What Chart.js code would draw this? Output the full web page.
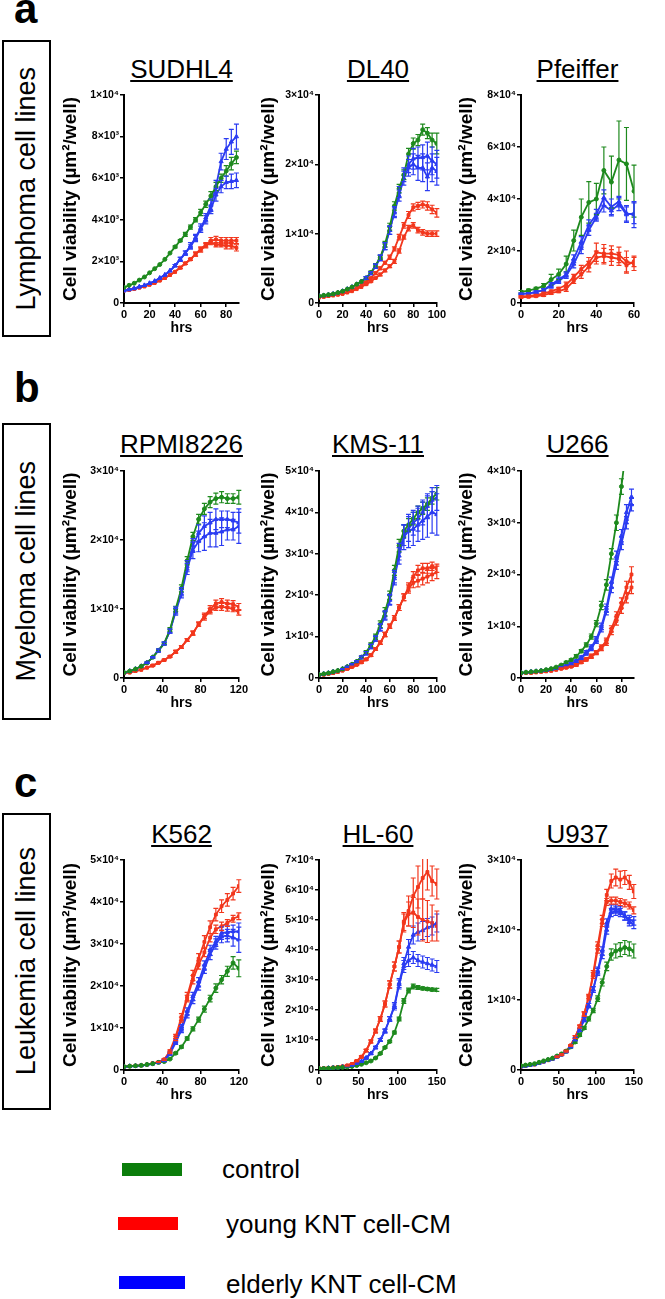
<!DOCTYPE html>
<html lang="en">
<head>
<meta charset="UTF-8">
<title>Cell viability of lymphoma, myeloma and leukemia cell lines</title>
<script src="https://cdn.jsdelivr.net/npm/chart.js"></script>
<style>
  body { margin: 0; width: 665px; height: 1299px; position: relative; overflow: hidden; background: #fff; color: #000; font-family: 'Liberation Sans', Arial, sans-serif; }
  .panel-letter { position: absolute; left: 14px; font-weight: bold; font-size: 42px; line-height: 42px; }
  .group-box { position: absolute; left: 2px; width: 49px; height: 297px; border: 2.5px solid #000; box-sizing: border-box; display: flex; align-items: center; justify-content: center; }
  .group-box span { writing-mode: vertical-rl; transform: rotate(180deg); font-size: 27px; white-space: nowrap; }
  .cell-title { position: absolute; font-size: 26px; line-height: 26px; white-space: nowrap; text-decoration: underline; text-decoration-thickness: 1.5px; text-underline-offset: 2px; transform: translateX(-50%); }
  canvas { position: absolute; }
  .swatch { position: absolute; height: 13px; }
  .legend-text { position: absolute; font-size: 26px; line-height: 26px; white-space: nowrap; }
</style>
</head>
<body>
  <div class="panel-letter" style="top:-12px">a</div>
  <div class="panel-letter" style="top:367px">b</div>
  <div class="panel-letter" style="top:762px">c</div>

  <div class="group-box" style="top:40px"><span>Lymphoma cell lines</span></div>
  <div class="group-box" style="top:423px"><span>Myeloma cell lines</span></div>
  <div class="group-box" style="top:813px"><span>Leukemia cell lines</span></div>

  <div id="panels"></div>

  <div class="swatch" style="left:122px; top:1163px; width:60px; background:#0b7d0b"></div>
  <div class="legend-text" style="left:222px; top:1156px">control</div>
  <div class="swatch" style="left:118px; top:1217px; width:60px; background:#ff0000"></div>
  <div class="legend-text" style="left:226px; top:1211px">young KNT cell-CM</div>
  <div class="swatch" style="left:119px; top:1276px; width:66px; background:#0000ff"></div>
  <div class="legend-text" style="left:226px; top:1271px">elderly KNT cell-CM</div>

<script>
// all values in units of 10^4 µm²/well

// ---- SUDHL4 ----
const sudhl4Hours = [0, 4, 8, 12, 16, 20, 24, 28, 32, 36, 40, 44, 48, 52, 56, 60, 64, 68, 72, 76, 80, 84, 88];
const sudhl4Control = [0.075, 0.085, 0.095, 0.11, 0.125, 0.145, 0.165, 0.185, 0.21, 0.24, 0.27, 0.30, 0.33, 0.365, 0.40, 0.435, 0.475, 0.515, 0.56, 0.60, 0.635, 0.67, 0.70];
const sudhl4ControlErr = [0, 0, 0, 0, 0, 0, 0, 0, 0, 0, 0.005, 0.005, 0.01, 0.01, 0.01, 0.015, 0.015, 0.02, 0.02, 0.02, 0.025, 0.03, 0.03];
const sudhl4Young1 = [0.06, 0.063, 0.068, 0.074, 0.08, 0.088, 0.097, 0.108, 0.12, 0.135, 0.15, 0.17, 0.19, 0.21, 0.235, 0.26, 0.28, 0.30, 0.305, 0.30, 0.30, 0.30, 0.30];
const sudhl4Young1Err = [0, 0, 0, 0, 0, 0, 0, 0, 0, 0, 0, 0.005, 0.005, 0.005, 0.01, 0.01, 0.01, 0.015, 0.015, 0.015, 0.015, 0.015, 0.015];
const sudhl4Young2 = [0.06, 0.063, 0.068, 0.074, 0.08, 0.088, 0.097, 0.108, 0.12, 0.135, 0.15, 0.17, 0.19, 0.21, 0.235, 0.255, 0.275, 0.29, 0.28, 0.28, 0.275, 0.275, 0.265];
const sudhl4Young2Err = [0, 0, 0, 0, 0, 0, 0, 0, 0, 0, 0, 0.005, 0.005, 0.005, 0.01, 0.01, 0.01, 0.01, 0.01, 0.01, 0.015, 0.015, 0.015];
const sudhl4Elderly1 = [0.06, 0.065, 0.07, 0.078, 0.085, 0.095, 0.105, 0.12, 0.135, 0.155, 0.18, 0.21, 0.24, 0.275, 0.315, 0.36, 0.41, 0.47, 0.56, 0.68, 0.74, 0.775, 0.80];
const sudhl4Elderly1Err = [0, 0, 0, 0, 0, 0, 0, 0, 0, 0, 0.005, 0.01, 0.01, 0.015, 0.015, 0.02, 0.02, 0.03, 0.03, 0.04, 0.05, 0.06, 0.06];
const sudhl4Elderly2 = [0.06, 0.065, 0.07, 0.078, 0.085, 0.095, 0.105, 0.12, 0.135, 0.155, 0.18, 0.21, 0.24, 0.27, 0.31, 0.355, 0.40, 0.45, 0.52, 0.56, 0.58, 0.585, 0.59];
const sudhl4Elderly2Err = [0, 0, 0, 0, 0, 0, 0, 0, 0, 0, 0.005, 0.01, 0.01, 0.01, 0.015, 0.015, 0.02, 0.02, 0.03, 0.03, 0.03, 0.035, 0.035];
const sudhl4YLabels = ['0', '2×10³', '4×10³', '6×10³', '8×10³', '1×10⁴'];

// ---- DL40 ----
const dl40Hours = [0, 4, 8, 12, 16, 20, 24, 28, 32, 36, 40, 44, 48, 52, 56, 60, 64, 68, 72, 76, 80, 84, 88, 92, 96, 100];
const dl40Control = [0.1, 0.11, 0.12, 0.13, 0.15, 0.17, 0.2, 0.23, 0.27, 0.31, 0.36, 0.44, 0.54, 0.66, 0.85, 1.1, 1.4, 1.65, 1.85, 2.15, 2.3, 2.35, 2.5, 2.45, 2.35, 2.3];
const dl40ControlErr = [0, 0, 0, 0, 0, 0, 0, 0, 0, 0, 0.02, 0.02, 0.03, 0.03, 0.04, 0.05, 0.06, 0.06, 0.07, 0.08, 0.08, 0.08, 0.08, 0.08, 0.1, 0.15];
const dl40Young1 = [0.08, 0.09, 0.1, 0.11, 0.12, 0.14, 0.16, 0.19, 0.22, 0.26, 0.3, 0.36, 0.43, 0.5, 0.58, 0.66, 0.78, 0.95, 1.12, 1.27, 1.38, 1.4, 1.42, 1.4, 1.35, 1.3];
const dl40Young1Err = [0, 0, 0, 0, 0, 0, 0, 0, 0, 0, 0.01, 0.01, 0.02, 0.02, 0.02, 0.03, 0.03, 0.04, 0.04, 0.05, 0.05, 0.05, 0.05, 0.06, 0.06, 0.06];
const dl40Young2 = [0.08, 0.09, 0.1, 0.11, 0.12, 0.13, 0.15, 0.17, 0.2, 0.23, 0.27, 0.31, 0.36, 0.41, 0.47, 0.53, 0.6, 0.75, 0.95, 1.08, 1.12, 1.05, 1.02, 1.0, 1.0, 1.0];
const dl40Young2Err = [0, 0, 0, 0, 0, 0, 0, 0, 0, 0, 0.01, 0.01, 0.01, 0.02, 0.02, 0.02, 0.03, 0.03, 0.03, 0.04, 0.04, 0.04, 0.04, 0.04, 0.04, 0.04];
const dl40Elderly1 = [0.1, 0.11, 0.12, 0.13, 0.15, 0.17, 0.2, 0.23, 0.27, 0.31, 0.36, 0.43, 0.53, 0.65, 0.82, 1.05, 1.32, 1.6, 1.85, 2.0, 2.08, 2.1, 2.1, 2.12, 2.05, 2.0];
const dl40Elderly1Err = [0, 0, 0, 0, 0, 0, 0, 0, 0, 0, 0.02, 0.02, 0.03, 0.04, 0.05, 0.06, 0.07, 0.08, 0.1, 0.12, 0.15, 0.15, 0.18, 0.2, 0.2, 0.2];
const dl40Elderly2 = [0.1, 0.11, 0.12, 0.13, 0.15, 0.17, 0.2, 0.23, 0.27, 0.31, 0.36, 0.43, 0.53, 0.65, 0.82, 1.05, 1.3, 1.55, 1.8, 1.95, 2.0, 1.95, 1.95, 1.82, 1.95, 1.9];
const dl40Elderly2Err = [0, 0, 0, 0, 0, 0, 0, 0, 0, 0, 0.02, 0.02, 0.03, 0.04, 0.05, 0.06, 0.07, 0.08, 0.1, 0.12, 0.15, 0.18, 0.2, 0.2, 0.2, 0.2];
const dl40YLabels = ['0', '1×10⁴', '2×10⁴', '3×10⁴'];

// ---- Pfeiffer ----
const pfeifferHours = [0, 4, 8, 12, 16, 20, 24, 28, 32, 36, 40, 44, 48, 52, 56, 60];
const pfeifferControl = [0.43, 0.48, 0.55, 0.65, 0.9, 1.1, 1.5, 2.4, 3.3, 3.87, 4.0, 5.1, 4.65, 5.5, 5.35, 4.3];
const pfeifferControlErr = [0.05, 0.05, 0.05, 0.1, 0.2, 0.2, 0.3, 0.4, 0.7, 0.8, 0.6, 0.9, 1.0, 1.5, 1.4, 1.0];
const pfeifferYoung1 = [0.25, 0.27, 0.3, 0.37, 0.45, 0.55, 0.7, 1.0, 1.3, 1.55, 1.95, 1.9, 1.9, 1.85, 1.6, 1.5];
const pfeifferYoung1Err = [0.03, 0.03, 0.03, 0.05, 0.05, 0.05, 0.1, 0.1, 0.15, 0.2, 0.35, 0.35, 0.3, 0.3, 0.4, 0.25];
const pfeifferYoung2 = [0.22, 0.24, 0.26, 0.3, 0.38, 0.45, 0.55, 0.85, 1.1, 1.4, 1.75, 1.8, 1.75, 1.7, 1.45, 1.6];
const pfeifferYoung2Err = [0.03, 0.03, 0.03, 0.05, 0.05, 0.05, 0.1, 0.1, 0.15, 0.2, 0.25, 0.3, 0.3, 0.25, 0.3, 0.2];
const pfeifferElderly1 = [0.35, 0.37, 0.42, 0.5, 0.7, 0.9, 1.1, 1.7, 2.35, 3.0, 3.4, 4.05, 3.7, 3.9, 3.45, 3.4];
const pfeifferElderly1Err = [0.03, 0.03, 0.05, 0.05, 0.08, 0.1, 0.1, 0.15, 0.2, 0.2, 0.2, 0.3, 0.3, 0.2, 0.3, 0.5];
const pfeifferElderly2 = [0.35, 0.37, 0.42, 0.5, 0.65, 0.85, 1.05, 1.5, 2.1, 2.8, 3.3, 3.75, 3.55, 3.8, 3.4, 3.45];
const pfeifferElderly2Err = [0.03, 0.03, 0.05, 0.05, 0.08, 0.1, 0.1, 0.15, 0.2, 0.2, 0.15, 0.25, 0.2, 0.25, 0.3, 0.4];
const pfeifferYLabels = ['0', '2×10⁴', '4×10⁴', '6×10⁴', '8×10⁴'];

// ---- RPMI8226 ----
const rpmiHours = [0, 6, 12, 18, 24, 30, 36, 42, 48, 54, 60, 66, 72, 78, 84, 90, 96, 102, 108, 114, 120];
const rpmiControl = [0.08, 0.1, 0.13, 0.17, 0.22, 0.3, 0.4, 0.5, 0.7, 1.0, 1.3, 1.7, 2.05, 2.3, 2.45, 2.55, 2.6, 2.62, 2.6, 2.6, 2.62];
const rpmiControlErr = [0, 0, 0, 0, 0.01, 0.01, 0.02, 0.02, 0.03, 0.04, 0.05, 0.06, 0.06, 0.07, 0.08, 0.08, 0.08, 0.08, 0.07, 0.07, 0.1];
const rpmiYoung1 = [0.07, 0.08, 0.1, 0.12, 0.15, 0.18, 0.22, 0.26, 0.31, 0.38, 0.45, 0.55, 0.65, 0.78, 0.9, 1.0, 1.08, 1.1, 1.08, 1.07, 1.03];
const rpmiYoung1Err = [0, 0, 0, 0, 0, 0.01, 0.01, 0.01, 0.01, 0.02, 0.02, 0.02, 0.03, 0.03, 0.04, 0.05, 0.05, 0.05, 0.05, 0.05, 0.05];
const rpmiYoung2 = [0.07, 0.08, 0.1, 0.12, 0.15, 0.18, 0.22, 0.26, 0.31, 0.38, 0.45, 0.55, 0.65, 0.78, 0.88, 0.97, 1.02, 1.03, 1.02, 1.0, 0.95];
const rpmiYoung2Err = [0, 0, 0, 0, 0, 0.01, 0.01, 0.01, 0.01, 0.02, 0.02, 0.02, 0.03, 0.03, 0.04, 0.04, 0.04, 0.05, 0.05, 0.04, 0.04];
const rpmiElderly1 = [0.08, 0.1, 0.13, 0.17, 0.22, 0.3, 0.4, 0.5, 0.68, 0.98, 1.25, 1.62, 1.92, 2.1, 2.2, 2.25, 2.3, 2.3, 2.3, 2.28, 2.25];
const rpmiElderly1Err = [0, 0, 0, 0, 0.01, 0.01, 0.02, 0.02, 0.03, 0.05, 0.06, 0.08, 0.1, 0.12, 0.15, 0.15, 0.15, 0.12, 0.12, 0.12, 0.15];
const rpmiElderly2 = [0.08, 0.1, 0.13, 0.17, 0.22, 0.3, 0.4, 0.5, 0.68, 0.96, 1.22, 1.58, 1.85, 1.98, 2.05, 2.1, 2.1, 2.12, 2.15, 2.15, 2.2];
const rpmiElderly2Err = [0, 0, 0, 0, 0.01, 0.01, 0.02, 0.02, 0.03, 0.05, 0.06, 0.08, 0.12, 0.15, 0.2, 0.2, 0.2, 0.2, 0.15, 0.15, 0.25];
const rpmiYLabels = ['0', '1×10⁴', '2×10⁴', '3×10⁴'];

// ---- KMS-11 ----
const kms11Hours = [0, 4, 8, 12, 16, 20, 24, 28, 32, 36, 40, 44, 48, 52, 56, 60, 64, 68, 72, 76, 80, 84, 88, 92, 96, 100];
const kms11Control = [0.08, 0.1, 0.12, 0.15, 0.18, 0.22, 0.27, 0.33, 0.4, 0.5, 0.62, 0.8, 1.0, 1.3, 1.6, 2.0, 2.6, 3.2, 3.55, 3.7, 3.85, 4.0, 4.1, 4.2, 4.35, 4.45];
const kms11ControlErr = [0, 0, 0, 0, 0, 0.01, 0.01, 0.02, 0.02, 0.03, 0.04, 0.05, 0.06, 0.08, 0.1, 0.1, 0.12, 0.15, 0.15, 0.15, 0.15, 0.15, 0.15, 0.15, 0.15, 0.15];
const kms11Young1 = [0.07, 0.08, 0.1, 0.12, 0.15, 0.18, 0.22, 0.27, 0.32, 0.38, 0.45, 0.55, 0.7, 0.85, 1.05, 1.25, 1.45, 1.7, 1.95, 2.2, 2.45, 2.6, 2.65, 2.65, 2.7, 2.65];
const kms11Young1Err = [0, 0, 0, 0, 0, 0, 0.01, 0.01, 0.01, 0.02, 0.02, 0.03, 0.03, 0.04, 0.05, 0.05, 0.06, 0.07, 0.08, 0.1, 0.12, 0.12, 0.12, 0.12, 0.1, 0.1];
const kms11Young2 = [0.07, 0.08, 0.1, 0.12, 0.15, 0.18, 0.22, 0.27, 0.32, 0.38, 0.45, 0.55, 0.7, 0.85, 1.05, 1.25, 1.45, 1.7, 1.95, 2.15, 2.3, 2.35, 2.4, 2.45, 2.5, 2.55];
const kms11Young2Err = [0, 0, 0, 0, 0, 0, 0.01, 0.01, 0.01, 0.02, 0.02, 0.03, 0.03, 0.04, 0.05, 0.05, 0.06, 0.07, 0.08, 0.1, 0.12, 0.15, 0.15, 0.15, 0.15, 0.15];
const kms11Elderly1 = [0.08, 0.1, 0.12, 0.15, 0.18, 0.22, 0.27, 0.33, 0.4, 0.5, 0.6, 0.76, 0.95, 1.22, 1.52, 1.9, 2.45, 3.05, 3.45, 3.6, 3.75, 3.85, 4.0, 4.15, 4.3, 4.35];
const kms11Elderly1Err = [0, 0, 0, 0, 0, 0.01, 0.01, 0.02, 0.02, 0.03, 0.04, 0.05, 0.06, 0.08, 0.1, 0.12, 0.15, 0.2, 0.25, 0.3, 0.3, 0.3, 0.3, 0.3, 0.3, 0.3];
const kms11Elderly2 = [0.08, 0.1, 0.12, 0.15, 0.18, 0.22, 0.27, 0.33, 0.4, 0.5, 0.6, 0.76, 0.95, 1.22, 1.5, 1.88, 2.4, 2.95, 3.4, 3.55, 3.6, 3.7, 3.8, 3.9, 4.0, 3.95];
const kms11Elderly2Err = [0, 0, 0, 0, 0, 0.01, 0.01, 0.02, 0.02, 0.03, 0.04, 0.05, 0.06, 0.08, 0.1, 0.12, 0.15, 0.2, 0.3, 0.4, 0.4, 0.4, 0.45, 0.5, 0.5, 0.5];
const kms11YLabels = ['0', '1×10⁴', '2×10⁴', '3×10⁴', '4×10⁴', '5×10⁴'];

// ---- U266 ----
const u266Hours = [0, 4, 8, 12, 16, 20, 24, 28, 32, 36, 40, 44, 48, 52, 56, 60, 64, 68, 72, 76, 80, 84, 88];
const u266Control = [0.1, 0.11, 0.12, 0.13, 0.14, 0.16, 0.18, 0.21, 0.25, 0.3, 0.35, 0.42, 0.52, 0.64, 0.8, 1.05, 1.4, 1.8, 2.4, 3.0, 3.7, 4.5, null];
const u266ControlErr = [0, 0, 0, 0, 0, 0, 0, 0.01, 0.01, 0.02, 0.02, 0.03, 0.03, 0.04, 0.05, 0.06, 0.08, 0.1, 0.1, 0.15, 0.15, 0.2, 0];
const u266Young1 = [0.09, 0.1, 0.1, 0.11, 0.12, 0.13, 0.14, 0.16, 0.18, 0.2, 0.22, 0.26, 0.31, 0.37, 0.43, 0.5, 0.6, 0.72, 0.95, 1.2, 1.45, 1.75, 2.0];
const u266Young1Err = [0, 0, 0, 0, 0, 0, 0, 0, 0.01, 0.01, 0.01, 0.02, 0.02, 0.02, 0.03, 0.03, 0.04, 0.05, 0.06, 0.08, 0.1, 0.12, 0.15];
const u266Young2 = [0.09, 0.1, 0.1, 0.11, 0.12, 0.13, 0.14, 0.16, 0.18, 0.2, 0.22, 0.25, 0.3, 0.35, 0.41, 0.48, 0.57, 0.68, 0.9, 1.1, 1.35, 1.55, 1.75];
const u266Young2Err = [0, 0, 0, 0, 0, 0, 0, 0, 0.01, 0.01, 0.01, 0.02, 0.02, 0.02, 0.03, 0.03, 0.04, 0.05, 0.06, 0.08, 0.1, 0.1, 0.12];
const u266Elderly1 = [0.1, 0.11, 0.12, 0.13, 0.14, 0.15, 0.17, 0.19, 0.21, 0.24, 0.28, 0.33, 0.4, 0.5, 0.6, 0.75, 1.0, 1.35, 1.85, 2.35, 2.75, 3.2, 3.5];
const u266Elderly1Err = [0, 0, 0, 0, 0, 0, 0, 0, 0.01, 0.01, 0.02, 0.02, 0.03, 0.03, 0.04, 0.05, 0.06, 0.08, 0.1, 0.1, 0.12, 0.15, 0.15];
const u266Elderly2 = [0.1, 0.11, 0.12, 0.13, 0.14, 0.15, 0.17, 0.19, 0.21, 0.24, 0.27, 0.32, 0.38, 0.47, 0.57, 0.72, 0.95, 1.3, 1.75, 2.2, 2.6, 3.0, 3.35];
const u266Elderly2Err = [0, 0, 0, 0, 0, 0, 0, 0, 0.01, 0.01, 0.02, 0.02, 0.03, 0.03, 0.04, 0.05, 0.06, 0.08, 0.1, 0.1, 0.12, 0.12, 0.12];
const u266YLabels = ['0', '1×10⁴', '2×10⁴', '3×10⁴', '4×10⁴'];

// ---- K562 ----
const k562Hours = [0, 6, 12, 18, 24, 30, 36, 42, 48, 54, 60, 66, 72, 78, 84, 90, 96, 102, 108, 114, 120];
const k562Control = [0.08, 0.09, 0.1, 0.11, 0.13, 0.15, 0.18, 0.2, 0.26, 0.4, 0.55, 0.75, 0.98, 1.2, 1.45, 1.7, 1.95, 2.15, 2.35, 2.55, 2.42];
const k562ControlErr = [0, 0, 0, 0, 0, 0, 0.01, 0.01, 0.01, 0.02, 0.03, 0.04, 0.05, 0.06, 0.07, 0.08, 0.1, 0.1, 0.12, 0.15, 0.2];
const k562Young1 = [0.08, 0.09, 0.1, 0.11, 0.13, 0.16, 0.19, 0.25, 0.45, 0.8, 1.26, 1.75, 2.25, 2.65, 3.05, 3.4, 3.7, 3.9, 4.05, 4.2, 4.38];
const k562Young1Err = [0, 0, 0, 0, 0, 0, 0.01, 0.02, 0.03, 0.05, 0.08, 0.1, 0.12, 0.12, 0.15, 0.15, 0.15, 0.15, 0.15, 0.15, 0.15];
const k562Young2 = [0.08, 0.09, 0.1, 0.11, 0.13, 0.16, 0.19, 0.25, 0.42, 0.75, 1.2, 1.7, 2.15, 2.5, 2.8, 3.15, 3.35, 3.42, 3.5, 3.6, 3.66];
const k562Young2Err = [0, 0, 0, 0, 0, 0, 0.01, 0.02, 0.03, 0.05, 0.06, 0.08, 0.1, 0.1, 0.1, 0.1, 0.1, 0.1, 0.08, 0.08, 0.08];
const k562Elderly1 = [0.08, 0.09, 0.1, 0.11, 0.13, 0.15, 0.18, 0.23, 0.4, 0.7, 1.02, 1.4, 1.75, 2.1, 2.5, 2.85, 3.06, 3.26, 3.28, 3.3, 3.3];
const k562Elderly1Err = [0, 0, 0, 0, 0, 0, 0.01, 0.02, 0.03, 0.04, 0.06, 0.08, 0.1, 0.1, 0.1, 0.12, 0.12, 0.15, 0.15, 0.15, 0.2];
const k562Elderly2 = [0.08, 0.09, 0.1, 0.11, 0.13, 0.15, 0.18, 0.22, 0.38, 0.65, 0.95, 1.32, 1.68, 2.0, 2.4, 2.75, 3.0, 3.18, 3.2, 3.15, 3.1];
const k562Elderly2Err = [0, 0, 0, 0, 0, 0, 0.01, 0.02, 0.03, 0.04, 0.06, 0.08, 0.1, 0.1, 0.1, 0.12, 0.12, 0.15, 0.15, 0.2, 0.3];
const k562YLabels = ['0', '1×10⁴', '2×10⁴', '3×10⁴', '4×10⁴', '5×10⁴'];

// ---- HL-60 ----
const hl60Hours = [0, 6, 12, 18, 24, 30, 36, 42, 48, 54, 60, 66, 72, 78, 84, 90, 96, 102, 108, 114, 120, 126, 132, 138, 144, 150];
const hl60Control = [0.05, 0.05, 0.06, 0.07, 0.08, 0.09, 0.1, 0.12, 0.15, 0.19, 0.24, 0.3, 0.4, 0.55, 0.75, 0.95, 1.25, 1.7, 2.3, 2.65, 2.78, 2.75, 2.72, 2.7, 2.68, 2.67];
const hl60ControlErr = [0, 0, 0, 0, 0, 0, 0, 0, 0.01, 0.01, 0.01, 0.02, 0.02, 0.03, 0.03, 0.04, 0.05, 0.06, 0.08, 0.08, 0.08, 0.06, 0.05, 0.05, 0.05, 0.05];
const hl60Young1 = [0.05, 0.06, 0.07, 0.08, 0.1, 0.12, 0.15, 0.2, 0.3, 0.44, 0.65, 0.95, 1.3, 1.7, 2.2, 2.85, 3.45, 4.1, 4.95, 5.3, 5.8, 6.1, 6.4, 6.6, 6.3, 6.2];
const hl60Young1Err = [0, 0, 0, 0, 0, 0, 0.01, 0.01, 0.02, 0.03, 0.04, 0.05, 0.06, 0.08, 0.1, 0.12, 0.15, 0.2, 0.3, 0.5, 0.6, 0.7, 0.7, 0.6, 0.5, 0.5];
const hl60Young2 = [0.05, 0.06, 0.07, 0.08, 0.1, 0.12, 0.15, 0.2, 0.3, 0.44, 0.65, 0.95, 1.3, 1.7, 2.2, 2.85, 3.45, 4.1, 4.9, 5.2, 5.25, 5.1, 5.0, 4.95, 4.9, 4.8];
const hl60Young2Err = [0, 0, 0, 0, 0, 0, 0.01, 0.01, 0.02, 0.03, 0.04, 0.05, 0.06, 0.08, 0.1, 0.12, 0.15, 0.2, 0.3, 0.4, 0.5, 0.6, 0.7, 0.7, 0.6, 0.5];
const hl60Elderly1 = [0.05, 0.05, 0.06, 0.07, 0.08, 0.1, 0.12, 0.15, 0.2, 0.28, 0.4, 0.55, 0.75, 1.0, 1.3, 1.7, 2.15, 2.9, 3.55, 4.1, 4.5, 4.6, 4.65, 4.75, 4.8, 4.9];
const hl60Elderly1Err = [0, 0, 0, 0, 0, 0, 0.01, 0.01, 0.01, 0.02, 0.02, 0.03, 0.04, 0.05, 0.06, 0.08, 0.1, 0.15, 0.2, 0.25, 0.3, 0.3, 0.3, 0.3, 0.3, 0.3];
const hl60Elderly2 = [0.05, 0.05, 0.06, 0.07, 0.08, 0.1, 0.12, 0.15, 0.2, 0.28, 0.4, 0.55, 0.75, 1.0, 1.3, 1.7, 2.1, 2.85, 3.45, 3.65, 3.75, 3.65, 3.6, 3.55, 3.5, 3.45];
const hl60Elderly2Err = [0, 0, 0, 0, 0, 0, 0.01, 0.01, 0.01, 0.02, 0.02, 0.03, 0.04, 0.05, 0.06, 0.08, 0.1, 0.15, 0.2, 0.2, 0.2, 0.2, 0.2, 0.2, 0.2, 0.2];
const hl60YLabels = ['0', '1×10⁴', '2×10⁴', '3×10⁴', '4×10⁴', '5×10⁴', '6×10⁴', '7×10⁴'];

// ---- U937 ----
const u937Hours = [0, 6, 12, 18, 24, 30, 36, 42, 48, 54, 60, 66, 72, 78, 84, 90, 96, 102, 108, 114, 120, 126, 132, 138, 144, 150];
const u937Control = [0.06, 0.07, 0.08, 0.09, 0.11, 0.13, 0.15, 0.17, 0.2, 0.23, 0.27, 0.33, 0.4, 0.5, 0.6, 0.73, 0.85, 1.02, 1.25, 1.48, 1.65, 1.7, 1.72, 1.75, 1.73, 1.7];
const u937ControlErr = [0, 0, 0, 0, 0, 0, 0, 0, 0.01, 0.01, 0.01, 0.01, 0.02, 0.02, 0.02, 0.03, 0.03, 0.04, 0.05, 0.06, 0.08, 0.1, 0.1, 0.1, 0.1, 0.1];
const u937Young1 = [0.05, 0.06, 0.07, 0.08, 0.1, 0.12, 0.14, 0.16, 0.19, 0.22, 0.27, 0.35, 0.47, 0.62, 0.8, 1.05, 1.38, 1.78, 2.15, 2.5, 2.7, 2.75, 2.72, 2.75, 2.68, 2.55];
const u937Young1Err = [0, 0, 0, 0, 0, 0, 0, 0, 0.01, 0.01, 0.01, 0.01, 0.02, 0.02, 0.03, 0.03, 0.04, 0.05, 0.06, 0.08, 0.1, 0.12, 0.12, 0.1, 0.1, 0.1];
const u937Young2 = [0.05, 0.06, 0.07, 0.08, 0.1, 0.12, 0.14, 0.16, 0.19, 0.22, 0.27, 0.35, 0.47, 0.62, 0.8, 1.03, 1.35, 1.72, 2.1, 2.4, 2.42, 2.42, 2.4, 2.38, 2.35, 2.28];
const u937Young2Err = [0, 0, 0, 0, 0, 0, 0, 0, 0.01, 0.01, 0.01, 0.01, 0.02, 0.02, 0.03, 0.03, 0.04, 0.05, 0.05, 0.05, 0.05, 0.05, 0.05, 0.05, 0.05, 0.05];
const u937Elderly1 = [0.05, 0.06, 0.07, 0.08, 0.1, 0.12, 0.14, 0.16, 0.19, 0.22, 0.26, 0.33, 0.44, 0.57, 0.72, 0.92, 1.15, 1.42, 1.7, 2.1, 2.3, 2.3, 2.28, 2.2, 2.15, 2.13];
const u937Elderly1Err = [0, 0, 0, 0, 0, 0, 0, 0, 0.01, 0.01, 0.01, 0.01, 0.02, 0.02, 0.03, 0.03, 0.04, 0.05, 0.06, 0.06, 0.06, 0.06, 0.06, 0.06, 0.06, 0.06];
const u937Elderly2 = [0.05, 0.06, 0.07, 0.08, 0.1, 0.12, 0.14, 0.16, 0.19, 0.22, 0.26, 0.33, 0.44, 0.57, 0.72, 0.92, 1.15, 1.4, 1.65, 2.0, 2.25, 2.27, 2.25, 2.2, 2.12, 2.08];
const u937Elderly2Err = [0, 0, 0, 0, 0, 0, 0, 0, 0.01, 0.01, 0.01, 0.01, 0.02, 0.02, 0.03, 0.03, 0.04, 0.05, 0.06, 0.06, 0.06, 0.06, 0.06, 0.06, 0.06, 0.06];
const u937YLabels = ['0', '1×10⁴', '2×10⁴', '3×10⁴'];

// ---- layout (pixels in the page) ----
const rowTop = [95, 471, 860];
const rowZero = [303, 678, 1070];
const colAxis = [124, 319, 521];
const colPlotW = [115, 118, 113];
const colTitleX = [70, 268, 466];
const titleTop = [56, 431, 821];

const FONT = "'Liberation Sans', Arial, sans-serif";
Chart.defaults.font.family = FONT;
Chart.defaults.color = '#000';

const groupStyle = {
  control: { color: '#1e8a1e', pointStyle: 'circle', radius: 2 },
  young: { color: '#f2371d', pointStyle: 'rect', radius: 2 },
  elderly: { color: '#2b3cf2', pointStyle: 'triangle', radius: 2.4 }
};

const panels = [
  { name: 'SUDHL4', row: 0, col: 0, hours: sudhl4Hours, xMax: 90, xStep: 20, yMax: 1, yStep: 0.2, yLabels: sudhl4YLabels,
    series: [['control', sudhl4Control, sudhl4ControlErr], ['elderly', sudhl4Elderly1, sudhl4Elderly1Err], ['elderly', sudhl4Elderly2, sudhl4Elderly2Err], ['young', sudhl4Young1, sudhl4Young1Err], ['young', sudhl4Young2, sudhl4Young2Err]] },
  { name: 'DL40', row: 0, col: 1, hours: dl40Hours, xMax: 100, xStep: 20, yMax: 3, yStep: 1, yLabels: dl40YLabels,
    series: [['control', dl40Control, dl40ControlErr], ['elderly', dl40Elderly1, dl40Elderly1Err], ['elderly', dl40Elderly2, dl40Elderly2Err], ['young', dl40Young1, dl40Young1Err], ['young', dl40Young2, dl40Young2Err]] },
  { name: 'Pfeiffer', row: 0, col: 2, hours: pfeifferHours, xMax: 60, xStep: 20, yMax: 8, yStep: 2, yLabels: pfeifferYLabels,
    series: [['control', pfeifferControl, pfeifferControlErr], ['elderly', pfeifferElderly1, pfeifferElderly1Err], ['elderly', pfeifferElderly2, pfeifferElderly2Err], ['young', pfeifferYoung1, pfeifferYoung1Err], ['young', pfeifferYoung2, pfeifferYoung2Err]] },
  { name: 'RPMI8226', row: 1, col: 0, hours: rpmiHours, xMax: 120, xStep: 40, yMax: 3, yStep: 1, yLabels: rpmiYLabels,
    series: [['control', rpmiControl, rpmiControlErr], ['elderly', rpmiElderly1, rpmiElderly1Err], ['elderly', rpmiElderly2, rpmiElderly2Err], ['young', rpmiYoung1, rpmiYoung1Err], ['young', rpmiYoung2, rpmiYoung2Err]] },
  { name: 'KMS-11', row: 1, col: 1, hours: kms11Hours, xMax: 100, xStep: 20, yMax: 5, yStep: 1, yLabels: kms11YLabels,
    series: [['control', kms11Control, kms11ControlErr], ['elderly', kms11Elderly1, kms11Elderly1Err], ['elderly', kms11Elderly2, kms11Elderly2Err], ['young', kms11Young1, kms11Young1Err], ['young', kms11Young2, kms11Young2Err]] },
  { name: 'U266', row: 1, col: 2, hours: u266Hours, xMax: 90, xStep: 20, yMax: 4, yStep: 1, yLabels: u266YLabels,
    series: [['control', u266Control, u266ControlErr], ['elderly', u266Elderly1, u266Elderly1Err], ['elderly', u266Elderly2, u266Elderly2Err], ['young', u266Young1, u266Young1Err], ['young', u266Young2, u266Young2Err]] },
  { name: 'K562', row: 2, col: 0, hours: k562Hours, xMax: 120, xStep: 40, yMax: 5, yStep: 1, yLabels: k562YLabels,
    series: [['control', k562Control, k562ControlErr], ['elderly', k562Elderly1, k562Elderly1Err], ['elderly', k562Elderly2, k562Elderly2Err], ['young', k562Young1, k562Young1Err], ['young', k562Young2, k562Young2Err]] },
  { name: 'HL-60', row: 2, col: 1, hours: hl60Hours, xMax: 150, xStep: 50, yMax: 7, yStep: 1, yLabels: hl60YLabels,
    series: [['control', hl60Control, hl60ControlErr], ['elderly', hl60Elderly1, hl60Elderly1Err], ['elderly', hl60Elderly2, hl60Elderly2Err], ['young', hl60Young1, hl60Young1Err], ['young', hl60Young2, hl60Young2Err]] },
  { name: 'U937', row: 2, col: 2, hours: u937Hours, xMax: 150, xStep: 50, yMax: 3, yStep: 1, yLabels: u937YLabels,
    series: [['control', u937Control, u937ControlErr], ['elderly', u937Elderly1, u937Elderly1Err], ['elderly', u937Elderly2, u937Elderly2Err], ['young', u937Young1, u937Young1Err], ['young', u937Young2, u937Young2Err]] }
];

// vertical error bars with caps, drawn through the chart's own scales
const errorBars = {
  id: 'errorBars',
  afterDatasetsDraw(chart) {
    const { ctx, chartArea, scales: { x, y } } = chart;
    ctx.save();
    ctx.beginPath();
    ctx.rect(chartArea.left - 4, chartArea.top - 1, chartArea.right - chartArea.left + 8, chartArea.bottom - chartArea.top + 2);
    ctx.clip();
    chart.data.datasets.forEach(ds => {
      ctx.strokeStyle = ds.borderColor;
      ctx.lineWidth = 1.2;
      ds.data.forEach((p, j) => {
        const e = ds.errors[j];
        if (!e || p.y == null) return;
        const px = x.getPixelForValue(p.x);
        const top = y.getPixelForValue(p.y + e);
        const bot = y.getPixelForValue(p.y - e);
        ctx.beginPath();
        ctx.moveTo(px, top); ctx.lineTo(px, bot);
        ctx.moveTo(px - 2.5, top); ctx.lineTo(px + 2.5, top);
        ctx.moveTo(px - 2.5, bot); ctx.lineTo(px + 2.5, bot);
        ctx.stroke();
      });
    });
    ctx.restore();
  }
};

const holder = document.getElementById('panels');
const padTop = 8, xAxisH = 36, padRight = 10;

panels.forEach(p => {
  const left = colTitleX[p.col] - 11;
  const yW = colAxis[p.col] - left;
  const plotH = rowZero[p.row] - rowTop[p.row];
  const cv = document.createElement('canvas');
  cv.width = yW + colPlotW[p.col] + padRight;
  cv.height = padTop + plotH + xAxisH;
  cv.style.left = left + 'px';
  cv.style.top = (rowTop[p.row] - padTop) + 'px';
  holder.appendChild(cv);

  const title = document.createElement('div');
  title.className = 'cell-title';
  title.textContent = p.name;
  title.style.left = (colAxis[p.col] + colPlotW[p.col] / 2) + 'px';
  title.style.top = titleTop[p.row] + 'px';
  holder.appendChild(title);

  const datasets = p.series.map(([group, vals, errs]) => {
    const st = groupStyle[group];
    return {
      label: group,
      data: p.hours.map((h, i) => ({ x: h, y: vals[i] })),
      errors: errs,
      borderColor: st.color,
      backgroundColor: st.color,
      borderWidth: 1.8,
      pointStyle: st.pointStyle,
      pointRadius: st.radius,
      pointBorderWidth: 1,
      tension: 0
    };
  });

  new Chart(cv, {
    type: 'line',
    data: { datasets },
    options: {
      responsive: false,
      animation: false,
      events: [],
      layout: { padding: { top: padTop, right: padRight, left: 0, bottom: 0 } },
      plugins: { legend: { display: false }, tooltip: { enabled: false } },
      scales: {
        x: {
          type: 'linear', min: 0, max: p.xMax,
          afterFit: s => { s.height = xAxisH; },
          border: { color: '#000', width: 2 },
          grid: { drawOnChartArea: false, color: '#000', tickLength: 4, lineWidth: 1.5 },
          ticks: { stepSize: p.xStep, includeBounds: false, padding: 1, maxRotation: 0, font: { size: 11, weight: 'bold' }, color: '#000' },
          title: { display: true, text: 'hrs', font: { size: 14, weight: 'bold' }, color: '#000', padding: { top: 0, bottom: 2 } }
        },
        y: {
          min: 0, max: p.yMax,
          afterFit: s => { s.width = yW; },
          border: { color: '#000', width: 2 },
          grid: { drawOnChartArea: false, color: '#000', tickLength: 4, lineWidth: 1.5 },
          ticks: { stepSize: p.yStep, padding: 1, font: { size: 10.5, weight: 'bold' }, color: '#000',
                   callback: (v, i) => p.yLabels[i] },
          title: { display: true, text: 'Cell viability (µm²/well)', font: { size: 19, weight: 'bold' }, color: '#000', padding: 0 }
        }
      }
    },
    plugins: [errorBars]
  });
});
</script>
</body>
</html>
